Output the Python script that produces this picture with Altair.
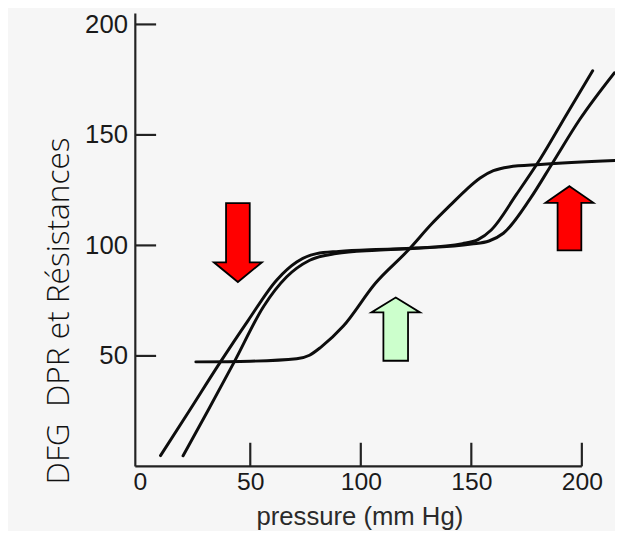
import altair as alt
import pandas as pd

# --- curve data (pressure mm Hg, value) ---
a_x = [9.4, 22.0, 36.0, 49.0, 62.0, 71.0, 80.0, 90.0, 107.0, 125.0, 146.0, 153.0, 159.0, 170.5, 181.3, 192.9, 204.9]
a_y = [4.9, 24.5, 46.5, 66.0, 84.4, 92.5, 96.3, 97.3, 98.2, 98.8, 100.8, 102.6, 107.0, 123.2, 139.3, 158.9, 179.0]

b_x = [19.6, 31.0, 42.7, 56.1, 66.5, 76.9, 88.8, 107.0, 125.0, 150.0, 158.0, 164.5, 176.8, 187.1, 199.1, 214.7]
b_y = [4.8, 25.5, 47.2, 72.5, 85.8, 93.3, 96.3, 97.8, 98.7, 100.6, 102.0, 105.5, 121.4, 137.9, 157.1, 178.1]

c_x = [25.4, 50.0, 71.0, 76.8, 82.0, 92.0, 106.7, 121.4, 132.1, 141.1, 148.0, 154.0, 160.0, 167.0, 181.3, 215.0]
c_y = [47.3, 47.6, 48.7, 50.3, 54.0, 63.4, 83.0, 97.8, 109.8, 118.8, 125.5, 130.5, 133.8, 135.5, 136.6, 138.4]

# axis ticks
x_ticks = [0, 50, 100, 150, 200]
y_ticks = [50, 100, 150, 200]

# arrows: centre (x, y)
down_arrow_x = [44.4]
down_arrow_y = [101.3]
green_arrow_x = [115.8]
green_arrow_y = [62.1]
red_up_arrow_x = [194.4]
red_up_arrow_y = [112.3]

rows = []
for name, xs, ys in [("A", a_x, a_y), ("B", b_x, b_y), ("C", c_x, c_y)]:
    for i, (xv, yv) in enumerate(zip(xs, ys)):
        rows.append({"curve": name, "x": xv, "y": yv, "o": i})
curves = pd.DataFrame(rows)

XS = alt.Scale(domain=[-2, 215], nice=False, zero=False)
YS = alt.Scale(domain=[0, 205], nice=False, zero=False)

lab_font = "Liberation Sans"

x_axis = alt.Axis(
    values=x_ticks, ticks=False, domain=False, grid=False,
    labelFont=lab_font, labelFontSize=25, labelColor="#1a1a1a", labelPadding=3,
    title="pressure (mm Hg)", titleFont=lab_font, titleFontSize=26,
    titleFontWeight="normal", titleColor="#2a2a2a",
    titleX=227, titleY=59, titleBaseline="alphabetic", titleAlign="center",
)
y_axis = alt.Axis(
    values=y_ticks, ticks=False, domain=False, grid=False,
    labelFont=lab_font, labelFontSize=26, labelColor="#1a1a1a", labelPadding=8,
    title="DFG\u00a0\u00a0DPR et Résistances", titleFont="Open Sans", titleFontSize=32,
    titleFontWeight=300, titleColor="#111111",
    titleX=-68, titleY=301, titleBaseline="alphabetic", titleAlign="center", titleAngle=270,
)

lines = alt.Chart(curves).mark_line(
    color="#0d0d0d", strokeWidth=3, interpolate="monotone", strokeCap="round"
).encode(
    x=alt.X("x:Q", scale=XS, axis=x_axis),
    y=alt.Y("y:Q", scale=YS, axis=y_axis),
    detail="curve:N",
    order="o:Q",
)

# axis lines
xline = alt.Chart(pd.DataFrame({"x": [-2], "x2": [200], "y": [0]})).mark_rule(
    color="#222222", strokeWidth=2.2
).encode(x=alt.X("x:Q", scale=XS), x2="x2:Q", y=alt.Y("y:Q", scale=YS))
yline = alt.Chart(pd.DataFrame({"x": [-2], "y": [0], "y2": [205]})).mark_rule(
    color="#222222", strokeWidth=2.2
).encode(x=alt.X("x:Q", scale=XS), y=alt.Y("y:Q", scale=YS), y2="y2:Q")

# inward ticks
xt = pd.DataFrame({"x": x_ticks[1:], "y": [0] * 4, "y2": [10.7] * 4})
xtick = alt.Chart(xt).mark_rule(color="#222222", strokeWidth=2.2).encode(
    x=alt.X("x:Q", scale=XS), y=alt.Y("y:Q", scale=YS), y2="y2:Q")
yt = pd.DataFrame({"x": [-2] * 4, "x2": [7.4] * 4, "y": y_ticks})
ytick = alt.Chart(yt).mark_rule(color="#222222", strokeWidth=2.2).encode(
    x=alt.X("x:Q", scale=XS), x2="x2:Q", y=alt.Y("y:Q", scale=YS))

down_path = "M -0.3 -1 L 0.3 -1 L 0.3 0.5 L 0.61 0.5 L 0 1 L -0.61 0.5 L -0.3 0.5 Z"
green_path = "M 0 -1 L 0.77 -0.53 L 0.39 -0.53 L 0.39 1 L -0.39 1 L -0.39 -0.53 L -0.77 -0.53 Z"
redup_path = "M 0 -1 L 0.75 -0.48 L 0.37 -0.48 L 0.37 1 L -0.37 1 L -0.37 -0.48 L -0.75 -0.48 Z"


def arrow(xs, ys, path, size, fill):
    return alt.Chart(pd.DataFrame({"x": xs, "y": ys})).mark_point(
        shape=path, size=size, filled=True, fill=fill, fillOpacity=1,
        stroke="#000000", strokeWidth=1.8, opacity=1
    ).encode(x=alt.X("x:Q", scale=XS), y=alt.Y("y:Q", scale=YS))


a1 = arrow(down_arrow_x, down_arrow_y, down_path, 6400, "#ff0000")
a2 = arrow(green_arrow_x, green_arrow_y, green_path, 4096, "#ccffcc")
a3 = arrow(red_up_arrow_x, red_up_arrow_y, redup_path, 4225, "#ff0000")

chart = alt.layer(lines, xline, yline, xtick, ytick, a1, a2, a3).properties(
    width=486, height=459,
    autosize=alt.AutoSizeParams(type="none"),
    padding={"left": 129, "top": 2, "right": 0, "bottom": 62},
    background="#f6f6f6",
).configure_view(stroke=None)

chart.save("out.html", embed_options={"renderer": "svg", "actions": False})
